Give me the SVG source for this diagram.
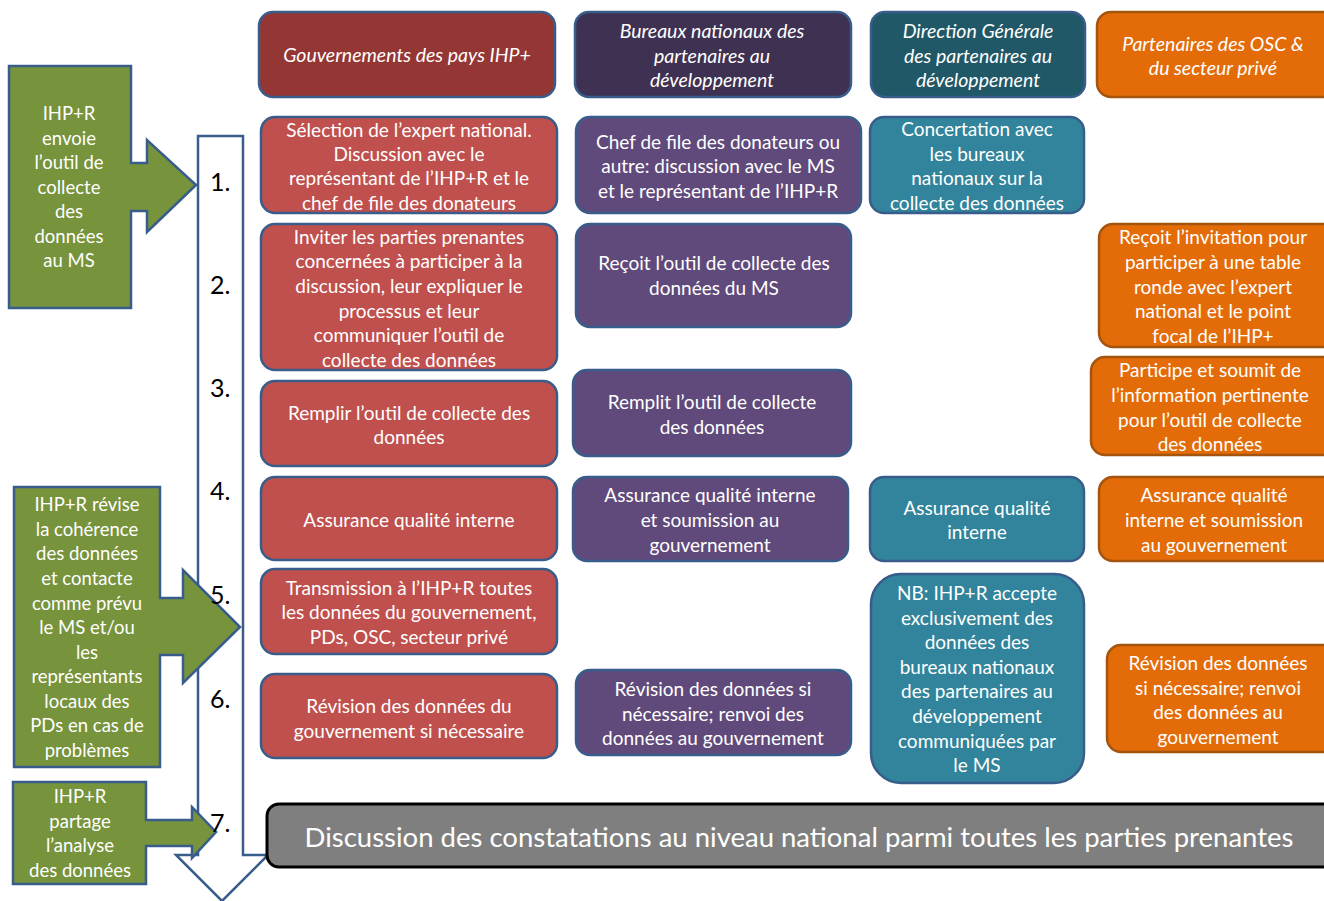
<svg xmlns="http://www.w3.org/2000/svg" width="1324" height="901" viewBox="0 0 1324 901">
<style>
text{font-family:Lato,"Open Sans","Liberation Sans",sans-serif;font-size:19px;fill:#fff;text-anchor:middle;dominant-baseline:central}
.hd{font-style:italic;font-size:19.5px}
.num{fill:#000;font-size:25px;text-anchor:start}
.gt{font-size:18.5px}
.bx{stroke:#385d8a;stroke-width:2.5}
.or{fill:#e36c09;stroke:#a5540e;stroke-width:2.5}
.red{fill:#c0504d}
.pur{fill:#604a7b}
.teal{fill:#31849b}
.gr{fill:#77933c;stroke:#385d8a;stroke-width:2.5}
</style>
<g id="flow-arrow">
<path d="M198,136 H243 V855 H268 L222,901 L176,855 H198 Z" fill="#fff" stroke="#385d8a" stroke-width="2.5"/>
</g>
<g id="headers">
<g id="h1"><rect class="bx" x="259" y="12" width="296" height="85" rx="14" fill="#943634"/><text class="hd" x="407" y="54">Gouvernements des pays IHP+</text></g>
<g id="h2"><rect class="bx" x="575" y="12" width="276" height="85" rx="14" fill="#3f3151"/><text class="hd" x="712" y="30">Bureaux nationaux des</text><text class="hd" x="712" y="55">partenaires au</text><text class="hd" x="712" y="79">développement</text></g>
<g id="h3"><rect class="bx" x="871" y="12" width="214" height="85" rx="14" fill="#215868"/><text class="hd" x="978" y="30">Direction Générale</text><text class="hd" x="978" y="55">des partenaires au</text><text class="hd" x="978" y="79">développement</text></g>
<g id="h4"><rect class="or" x="1097" y="12" width="240" height="85" rx="14"/><text class="hd" x="1213" y="43">Partenaires  des OSC &amp;</text><text class="hd" x="1213" y="67">du secteur privé</text></g>
</g>
<g id="col1">
<g id="r1"><rect class="bx red" x="261" y="117" width="296" height="96" rx="14"/><text x="409" y="129">Sélection de l’expert national.</text><text x="409" y="153">Discussion avec le</text><text x="409" y="177">représentant de l’IHP+R et le</text><text x="409" y="202">chef de file des donateurs</text></g>
<g id="r2"><rect class="bx red" x="261" y="224" width="296" height="146" rx="14"/><text x="409" y="236">Inviter les parties prenantes</text><text x="409" y="260">concernées à participer à la</text><text x="409" y="285">discussion, leur expliquer le</text><text x="409" y="310">processus et leur</text><text x="409" y="334">communiquer l’outil de</text><text x="409" y="359">collecte des données</text></g>
<g id="r3"><rect class="bx red" x="261" y="381" width="296" height="85" rx="14"/><text x="409" y="412">Remplir l’outil de collecte des</text><text x="409" y="436">données</text></g>
<g id="r4"><rect class="bx red" x="261" y="477" width="296" height="83" rx="14"/><text x="409" y="519">Assurance qualité interne</text></g>
<g id="r5"><rect class="bx red" x="261" y="569" width="296" height="85" rx="14"/><text x="409" y="587">Transmission à l’IHP+R toutes</text><text x="409" y="611">les données du gouvernement,</text><text x="409" y="636">PDs, OSC, secteur privé</text></g>
<g id="r6"><rect class="bx red" x="261" y="674" width="296" height="84" rx="14"/><text x="409" y="705">Révision des données du</text><text x="409" y="730">gouvernement si nécessaire</text></g>
</g>
<g id="col2">
<g id="p1"><rect class="bx pur" x="576" y="117" width="285" height="96" rx="14"/><text x="718" y="141">Chef de file des donateurs ou</text><text x="718" y="165">autre: discussion avec le MS</text><text x="718" y="190">et le représentant de l’IHP+R</text></g>
<g id="p2"><rect class="bx pur" x="576" y="224" width="275" height="103" rx="14"/><text x="714" y="262">Reçoit l’outil de collecte des</text><text x="714" y="287">données du MS</text></g>
<g id="p3"><rect class="bx pur" x="573" y="370" width="278" height="86" rx="14"/><text x="712" y="401">Remplit l’outil de collecte</text><text x="712" y="426">des données</text></g>
<g id="p4"><rect class="bx pur" x="573" y="477" width="275" height="84" rx="14"/><text x="710" y="494">Assurance qualité interne</text><text x="710" y="519">et soumission au</text><text x="710" y="544">gouvernement</text></g>
<g id="p6"><rect class="bx pur" x="576" y="670" width="275" height="85" rx="14"/><text x="713" y="688">Révision des données si</text><text x="713" y="713">nécessaire; renvoi des</text><text x="713" y="737">données au gouvernement</text></g>
</g>
<g id="col3">
<g id="t1"><rect class="bx teal" x="870" y="117" width="214" height="96" rx="14"/><text x="977" y="128">Concertation avec</text><text x="977" y="153">les bureaux</text><text x="977" y="177">nationaux sur la</text><text x="977" y="202">collecte des données</text></g>
<g id="t4"><rect class="bx teal" x="870" y="477" width="214" height="84" rx="14"/><text x="977" y="507">Assurance qualité</text><text x="977" y="531">interne</text></g>
<g id="t5"><rect class="bx teal" x="871" y="574" width="213" height="209" rx="30"/><text x="977" y="592">NB: IHP+R accepte</text><text x="977" y="617">exclusivement des</text><text x="977" y="641">données des</text><text x="977" y="666">bureaux nationaux</text><text x="977" y="690">des partenaires au</text><text x="977" y="715">développement</text><text x="977" y="740">communiquées par</text><text x="977" y="764">le MS</text></g>
</g>
<g id="col4">
<g id="o2"><rect class="or" x="1099" y="224" width="240" height="123" rx="14"/><text x="1213" y="236">Reçoit l’invitation pour</text><text x="1213" y="261">participer à une table</text><text x="1213" y="286">ronde avec l’expert</text><text x="1213" y="310">national et le point</text><text x="1213" y="335">focal de l’IHP+</text></g>
<g id="o3"><rect class="or" x="1091" y="357" width="248" height="98" rx="14"/><text x="1210" y="369">Participe et soumit de</text><text x="1210" y="394">l’information pertinente</text><text x="1210" y="419">pour l’outil de collecte</text><text x="1210" y="443">des données</text></g>
<g id="o4"><rect class="or" x="1099" y="477" width="240" height="84" rx="14"/><text x="1214" y="494">Assurance qualité</text><text x="1214" y="519">interne et soumission</text><text x="1214" y="544">au gouvernement</text></g>
<g id="o6"><rect class="or" x="1107" y="645" width="232" height="107" rx="14"/><text x="1218" y="662">Révision des données</text><text x="1218" y="687">si nécessaire; renvoi</text><text x="1218" y="711">des données au</text><text x="1218" y="736">gouvernement</text></g>
</g>
<g id="bottom-bar">
<rect x="267" y="804" width="1075" height="63" rx="12" fill="#7f7f7f" stroke="#000" stroke-width="3"/>
<text x="799" y="836" style="font-size:27.5px">Discussion des constatations au niveau national parmi toutes les parties prenantes</text>
</g>
<g id="callouts">
<g id="c1"><path class="gr" d="M9,66 H131 V163 H147 V140 L196,185 L147,232 V211 H131 V308 H9 Z"/><text class="gt" x="69" y="113">IHP+R</text><text class="gt" x="69" y="138">envoie</text><text class="gt" x="69" y="162">l’outil de</text><text class="gt" x="69" y="187">collecte</text><text class="gt" x="69" y="211">des</text><text class="gt" x="69" y="236">données</text><text class="gt" x="69" y="260">au MS</text></g>
<g id="c2"><path class="gr" d="M14,487 H160 V598 H183 V570 L240,627 L183,683 V655 H160 V767 H14 Z"/><text class="gt" x="87" y="504">IHP+R révise</text><text class="gt" x="87" y="529">la cohérence</text><text class="gt" x="87" y="553">des données</text><text class="gt" x="87" y="578">et contacte</text><text class="gt" x="87" y="603">comme prévu</text><text class="gt" x="87" y="627">le MS et/ou</text><text class="gt" x="87" y="652">les</text><text class="gt" x="87" y="676">représentants</text><text class="gt" x="87" y="701">locaux des</text><text class="gt" x="87" y="725">PDs en cas de</text><text class="gt" x="87" y="750">problèmes</text></g>
<g id="c3"><path class="gr" d="M13,782 H146 V820 H192 V807 L216,832 L192,858 V846 H146 V884 H13 Z"/><text class="gt" x="80" y="796">IHP+R</text><text class="gt" x="80" y="821">partage</text><text class="gt" x="80" y="845">l’analyse</text><text class="gt" x="80" y="870">des données</text></g>
</g>
<g id="numbers">
<text class="num" x="210" y="181">1.</text><text class="num" x="210" y="284">2.</text><text class="num" x="210" y="387">3.</text><text class="num" x="210" y="490">4.</text><text class="num" x="210" y="594">5.</text><text class="num" x="210" y="698">6.</text><text class="num" x="210" y="822">7.</text>
</g>
</svg>
